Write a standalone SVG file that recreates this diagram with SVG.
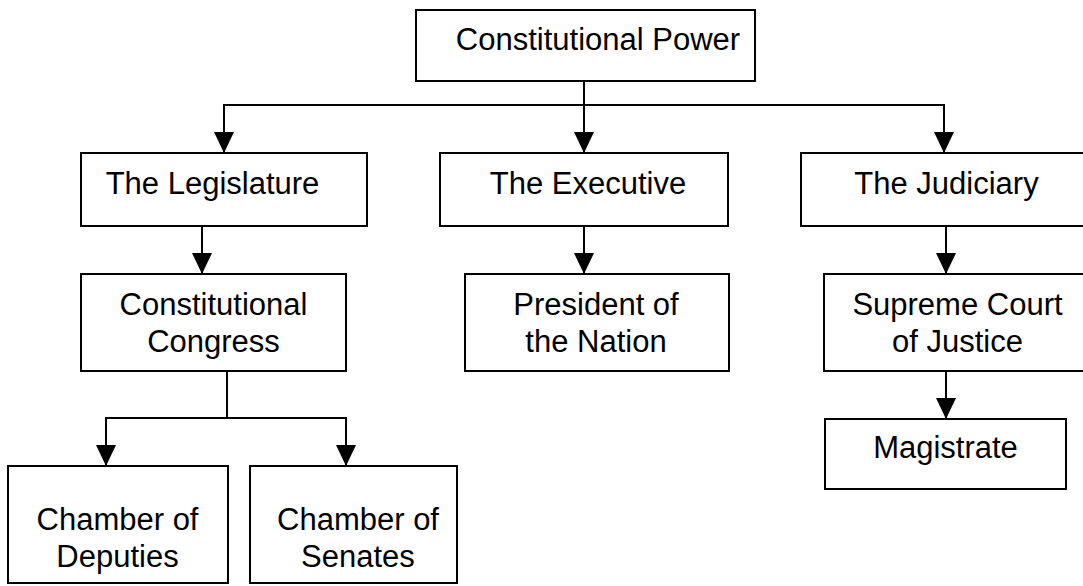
<svg xmlns="http://www.w3.org/2000/svg" width="1083" height="586" viewBox="0 0 1083 586">
<style>
.box{fill:#fff;stroke:#000;stroke-width:2}
.lbl{font-family:"Liberation Sans",Arial,Helvetica,sans-serif;font-size:31px;fill:#000;text-anchor:middle}
.con{fill:none;stroke:#000;stroke-width:2}
</style>
<defs>
<marker id="arr" markerUnits="userSpaceOnUse" viewBox="0 0 21 20" refX="21" refY="10" markerWidth="21" markerHeight="20" orient="auto">
<path d="M0,0 L21,10 L0,20 z" fill="#000"/>
</marker>
</defs>
<rect width="1083" height="586" fill="#fff"/>
<g id="connectors">
<path class="con" d="M584,81 V153" marker-end="url(#arr)"/>
<path class="con" d="M584,105 H224 V153" marker-end="url(#arr)"/>
<path class="con" d="M584,105 H944 V153" marker-end="url(#arr)"/>
<path class="con" d="M202,226 V274" marker-end="url(#arr)"/>
<path class="con" d="M584,226 V274" marker-end="url(#arr)"/>
<path class="con" d="M946,226 V274" marker-end="url(#arr)"/>
<path class="con" d="M946,371 V419" marker-end="url(#arr)"/>
<path class="con" d="M227,371 V418 H106 V466" marker-end="url(#arr)"/>
<path class="con" d="M227,418 H346 V466" marker-end="url(#arr)"/>
</g>
<g id="constitutional-power">
<rect class="box" x="416" y="10" width="339" height="71"/>
<text class="lbl" x="598" y="50">Constitutional Power</text>
</g>
<g id="legislature">
<rect class="box" x="81" y="153" width="286" height="73"/>
<text class="lbl" x="212.5" y="194">The Legislature</text>
</g>
<g id="executive">
<rect class="box" x="440" y="153" width="288" height="73"/>
<text class="lbl" x="588" y="194">The Executive</text>
</g>
<g id="judiciary">
<rect class="box" x="801" y="153" width="288" height="73"/>
<text class="lbl" x="946.5" y="194">The Judiciary</text>
</g>
<g id="congress">
<rect class="box" x="81" y="274" width="265" height="97"/>
<text class="lbl" x="213.5" y="315">Constitutional</text>
<text class="lbl" x="213.5" y="352">Congress</text>
</g>
<g id="president">
<rect class="box" x="465" y="274" width="264" height="97"/>
<text class="lbl" x="596" y="315">President of</text>
<text class="lbl" x="596" y="352">the Nation</text>
</g>
<g id="supreme-court">
<rect class="box" x="824" y="274" width="267" height="97"/>
<text class="lbl" x="957.5" y="315">Supreme Court</text>
<text class="lbl" x="957.5" y="352">of Justice</text>
</g>
<g id="magistrate">
<rect class="box" x="825" y="419" width="241" height="70"/>
<text class="lbl" x="945.5" y="458">Magistrate</text>
</g>
<g id="deputies">
<rect class="box" x="8" y="466" width="220" height="117"/>
<text class="lbl" x="117.5" y="530">Chamber of</text>
<text class="lbl" x="117.5" y="567">Deputies</text>
</g>
<g id="senates">
<rect class="box" x="250" y="466" width="207" height="117"/>
<text class="lbl" x="358" y="530">Chamber of</text>
<text class="lbl" x="358" y="567">Senates</text>
</g>
</svg>
